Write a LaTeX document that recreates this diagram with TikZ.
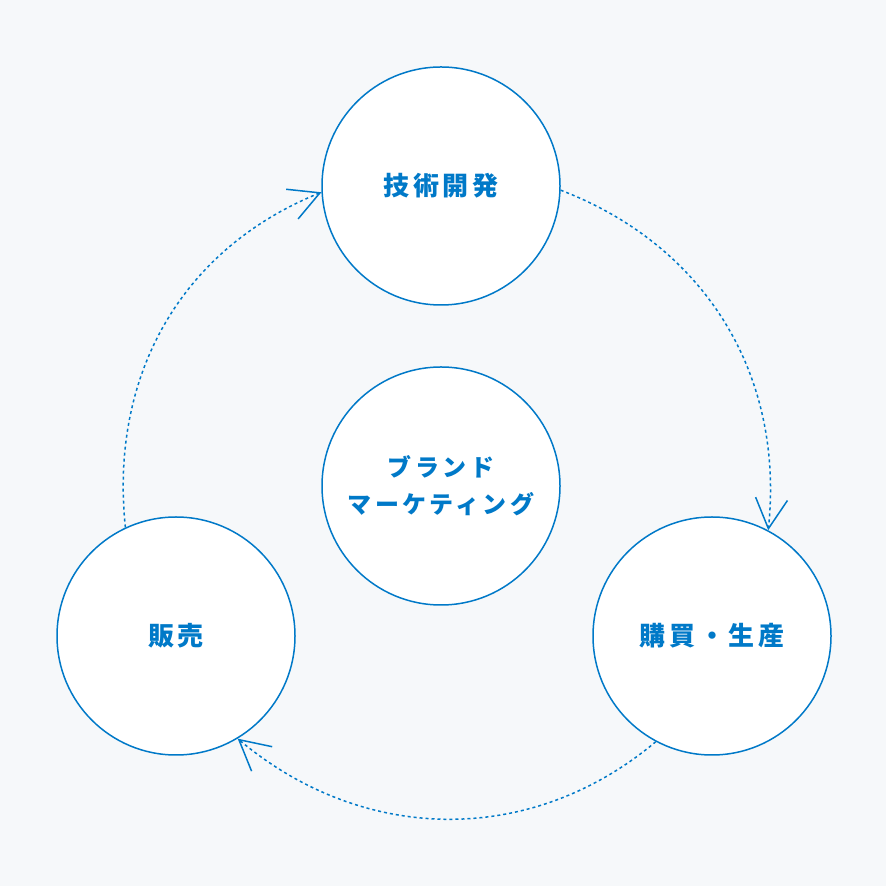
\documentclass[tikz,border=0pt]{standalone}
\usepackage{fontspec}
\newfontfamily\jp[LetterSpace=14]{Noto Sans CJK JP}
\usetikzlibrary{arrows.meta}
\definecolor{brandblue}{RGB}{0,121,200}
\definecolor{paper}{RGB}{246,248,250}

\begin{document}
\begin{tikzpicture}[x=1pt, y=1pt,
  bubble/.style={circle, draw=brandblue, fill=white, line width=1.5pt, minimum size=238pt, inner sep=0pt, text=brandblue, align=center, font=\jp\bfseries\fontsize{26}{37}\selectfont},
  flow/.style={brandblue, line width=1.5pt, dash pattern=on 3pt off 3pt, -{Straight Barb[length=30pt, width=32pt, line width=1.5pt]}}]

\fill [paper] (0,0) rectangle (886,886);

\draw (441,700) node (tech) [bubble] {技術開発};
\draw (441,400) node (brand) [bubble, font=\jp\bfseries\fontsize{24}{37}\selectfont] {ブランド\\マーケティング};
\draw (176,250) node (sales) [bubble] {販売};
\draw (712,250) node (buy) [bubble] {購買・生産};

\draw [flow] (tech.-2) to[out=-21, in=84] (buy.62);
\draw [flow] (buy.-118) to[out=220, in=320] (sales.-59);
\draw [flow] (sales.115) to[out=96, in=202] (tech.183);

\end{tikzpicture}
\end{document}
